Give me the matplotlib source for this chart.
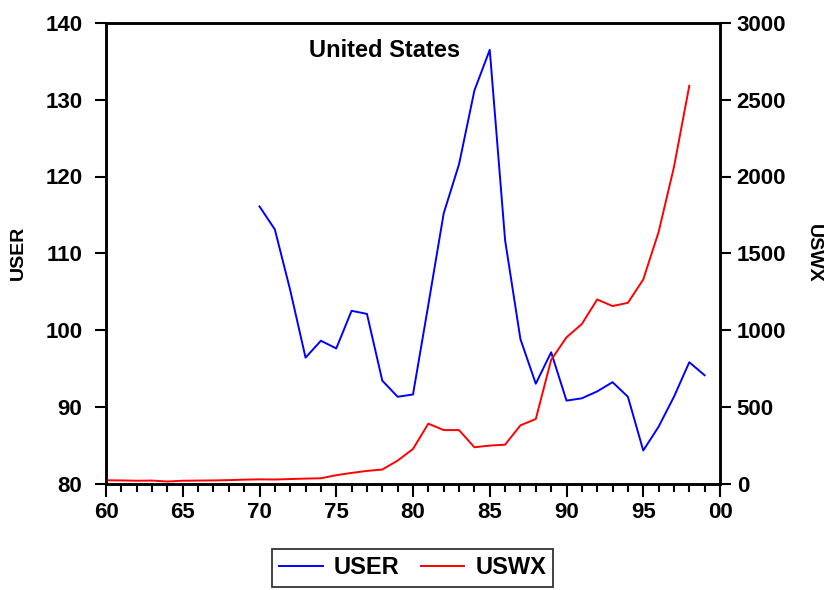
import matplotlib
matplotlib.use("Agg")
import matplotlib.pyplot as plt
from matplotlib.ticker import MultipleLocator, FixedLocator

plt.rcParams['font.family'] = ['Liberation Sans', 'DejaVu Sans']
plt.rcParams['font.weight'] = 'bold'

# Annual observations
user_years = list(range(1970, 2000))
user = [116.1, 113.1, 105.2, 96.4, 98.6, 97.6, 102.5, 102.1, 93.4, 91.3,
        91.6, 103.3, 115.2, 121.6, 131.2, 136.5, 111.7, 98.8, 93.0, 97.1,
        90.8, 91.1, 92.0, 93.2, 91.3, 84.3, 87.4, 91.3, 95.8, 94.1]

uswx_years = list(range(1960, 1999))
uswx = [21, 20, 18, 19, 13, 18, 19, 20, 22, 25, 27, 26, 29, 32, 34, 54, 69,
        82, 91, 149, 225, 390, 348, 348, 236, 247, 253, 379, 420, 805, 952,
        1039, 1199, 1156, 1177, 1329, 1638, 2061, 2591]

x_ticks = [1960, 1965, 1970, 1975, 1980, 1985, 1990, 1995, 2000]
x_tick_labels = ["60", "65", "70", "75", "80", "85", "90", "95", "00"]
left_ticks = [80, 90, 100, 110, 120, 130, 140]
right_ticks = [0, 500, 1000, 1500, 2000, 2500, 3000]

fig = plt.figure(figsize=(8.32, 5.90), dpi=100)
ax = fig.add_axes([106 / 832, 1 - 483.5 / 590, 614 / 832, 460.5 / 590])
ax2 = ax.twinx()

l1, = ax.plot(user_years, user, color="#0000ff", lw=1.4, label="USER")
l2, = ax2.plot(uswx_years, uswx, color="#ff0000", lw=1.4, label="USWX")

ax.set_xlim(1960, 2000)
ax.set_ylim(80, 140)
ax2.set_ylim(0, 3000)

ax.xaxis.set_major_locator(FixedLocator(x_ticks))
ax.set_xticklabels(x_tick_labels)
ax.xaxis.set_minor_locator(MultipleLocator(1))
ax.set_yticks(left_ticks)
ax2.set_yticks(right_ticks)

fs = 16
for a in (ax, ax2):
    for s in a.spines.values():
        s.set_linewidth(1.8)
    a.tick_params(axis="both", which="major", direction="out", length=8,
                  width=1.5, labelsize=fs, pad=3)
ax.tick_params(axis="x", which="minor", direction="out", length=6, width=1.5)
ax.tick_params(axis="x", which="major", length=9, pad=4)
ax.tick_params(axis="y", pad=9)
ax2.tick_params(axis="y", pad=4)

for lab in ax.get_xticklabels() + ax.get_yticklabels() + ax2.get_yticklabels():
    lab.set_fontweight("bold")

ax.set_ylabel("USER", fontsize=14, fontweight="bold", va="center")
ax.yaxis.set_label_coords((18 - 106) / 614, 0.5)
ax2.set_ylabel("USWX", fontsize=14, fontweight="bold", rotation=270,
               va="center")
ax2.yaxis.set_label_coords((813 - 106) / 614, 0.5)

ax.text(0.454, 0.941, "United States", transform=ax.transAxes, ha="center",
        va="center", fontsize=17, fontweight="bold")

leg = fig.legend([l1, l2], ["USER", "USWX"], loc="center",
                 bbox_to_anchor=(412.5 / 832, 1 - 568 / 590), ncol=2,
                 fontsize=17, frameon=True, fancybox=False, handlelength=1.86,
                 columnspacing=0.9, handletextpad=0.47, borderpad=0.3,
                 borderaxespad=0)
leg.get_frame().set_edgecolor("black")
leg.get_frame().set_linewidth(1.3)
for t in leg.get_texts():
    t.set_fontweight("bold")

fig.savefig("out.png", dpi=100)
